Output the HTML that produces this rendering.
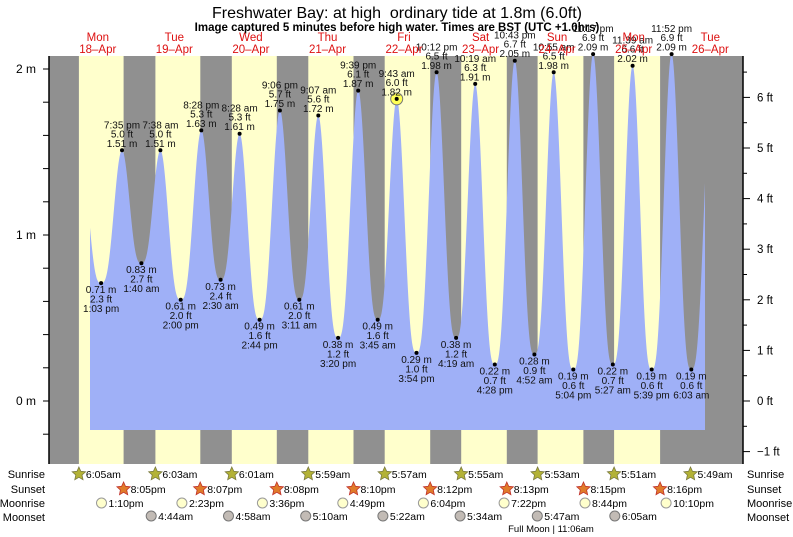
<!DOCTYPE html>
<html><head><meta charset="utf-8">
<style>
html,body{margin:0;padding:0;background:#fff;}
svg{display:block;font-family:"Liberation Sans",Arial,sans-serif;}
</style></head>
<body>
<svg id="s" width="793" height="537" viewBox="0 0 793 537" xmlns="http://www.w3.org/2000/svg"></svg>
<script>
var S=document.getElementById('s'),out=[];
var X0=59.5,PH=3.19,DAY=PH*24;
function tx(d,h,m){return X0+(d*24+h+m/60)*PH;}
function ym(v){return 401-v*166;}
var L=49,R=743,T=56,B=464;
out.push('<rect x="'+L+'" y="'+T+'" width="'+(R-L)+'" height="'+(B-T)+'" fill="#909090"/>');
var sr=[[6,5],[6,3],[6,1],[5,59],[5,57],[5,55],[5,53],[5,51],[5,49]];
var ss=[[20,5],[20,7],[20,8],[20,10],[20,12],[20,13],[20,15],[20,16]];
for(var d=0;d<8;d++){var a=tx(d,sr[d][0],sr[d][1]),b=tx(d,ss[d][0],ss[d][1]);
out.push('<rect x="'+a.toFixed(1)+'" y="'+T+'" width="'+(b-a).toFixed(1)+'" height="'+(B-T)+'" fill="#ffffcc"/>');}
var E=[[0,6,40,1.48,1],[0,13,3,0.71,0],[0,19,35,1.51,1],[1,1,40,0.83,0],[1,7,38,1.51,1],[1,14,0,0.61,0],[1,20,28,1.63,1],[2,2,30,0.73,0],[2,8,28,1.61,1],[2,14,44,0.49,0],[2,21,6,1.75,1],[3,3,11,0.61,0],[3,9,7,1.72,1],[3,15,20,0.38,0],[3,21,39,1.87,1],[4,3,45,0.49,0],[4,9,43,1.82,1],[4,15,54,0.29,0],[4,22,12,1.98,1],[5,4,19,0.38,0],[5,10,19,1.91,1],[5,16,28,0.22,0],[5,22,43,2.05,1],[6,4,52,0.28,0],[6,10,55,1.98,1],[6,17,4,0.19,0],[6,23,17,2.09,1],[7,5,27,0.22,0],[7,11,39,2.02,1],[7,17,39,0.19,0],[7,23,52,2.09,1],[8,6,3,0.19,0],[8,12,40,2.0,1]];
function H(x){for(var i=0;i<E.length-1;i++){var a=tx(E[i][0],E[i][1],E[i][2]),b=tx(E[i+1][0],E[i+1][1],E[i+1][2]);
if(x>=a&&x<=b){var f=(x-a)/(b-a);var lo=Math.min(E[i][3],E[i+1][3]),hi=Math.max(E[i][3],E[i+1][3]);
var g=E[i][4]?f:1-f;
var u=(1+Math.cos(Math.PI*g))/2;
return lo+(hi-lo)*Math.pow(u,1.5);}}return 1;}
var p='M90,430';for(var x=90;x<=705;x+=0.5){p+=' L'+x+','+ym(H(x)).toFixed(1);}p+=' L705,430 Z';
out.push('<path d="'+p+'" fill="#9fb0f7"/>');
out.push('<line x1="'+L+'" y1="'+T+'" x2="'+L+'" y2="'+B+'" stroke="#000" stroke-width="1.5"/>');
out.push('<line x1="'+R+'" y1="'+T+'" x2="'+R+'" y2="'+B+'" stroke="#000" stroke-width="1.5"/>');
for(var v=-0.2;v<=2.01;v+=0.2){var y=ym(v).toFixed(1);out.push('<line x1="43" y1="'+y+'" x2="'+L+'" y2="'+y+'" stroke="#000"/>');}
[['2 m',2],['1 m',1],['0 m',0]].forEach(function(q){out.push('<text x="36" y="'+(ym(q[1])+4)+'" font-size="12" text-anchor="end">'+q[0]+'</text>');});
for(var f=-1;f<=6.6;f+=0.5){var y=ym(f*0.3048);if(y<T)continue;var maj=Math.abs(f-Math.round(f))<0.01;
out.push('<line x1="'+R+'" y1="'+y.toFixed(1)+'" x2="'+(R+(maj?7:4))+'" y2="'+y.toFixed(1)+'" stroke="#000"/>');
if(maj)out.push('<text x="757" y="'+(y+4).toFixed(1)+'" font-size="11.5">'+(f<0?'\u2212'+(-f):f)+' ft</text>');}
function tf(h,m){var ap=h>=12?'pm':'am';var hh=h%12;if(hh==0)hh=12;return hh+':'+(m<10?'0':'')+m+' '+ap;}
for(var i=1;i<E.length-1;i++){var e=E[i],x=tx(e[0],e[1],e[2]),y=ym(e[3]);
var ft=(e[3]/0.3048).toFixed(1)+' ft',m=e[3].toFixed(2)+' m',t=tf(e[1],e[2]);
if(i==16)out.push('<circle cx="'+x.toFixed(1)+'" cy="'+y.toFixed(1)+'" r="6" fill="#ffff55" stroke="#777"/>');
out.push('<circle cx="'+x.toFixed(1)+'" cy="'+y.toFixed(1)+'" r="2" fill="#000"/>');
var g='<text font-size="10" text-anchor="middle" fill="#111">';
if(e[4]){g+='<tspan x="'+x.toFixed(1)+'" y="'+(y-22).toFixed(1)+'">'+t+'</tspan><tspan x="'+x.toFixed(1)+'" y="'+(y-13).toFixed(1)+'">'+ft+'</tspan><tspan x="'+x.toFixed(1)+'" y="'+(y-3.5).toFixed(1)+'">'+m+'</tspan>';}
else{g+='<tspan x="'+x.toFixed(1)+'" y="'+(y+10).toFixed(1)+'">'+m+'</tspan><tspan x="'+x.toFixed(1)+'" y="'+(y+19.5).toFixed(1)+'">'+ft+'</tspan><tspan x="'+x.toFixed(1)+'" y="'+(y+29).toFixed(1)+'">'+t+'</tspan>';}
out.push(g+'</text>');}
out.push('<text x="397" y="18" font-size="16" text-anchor="middle">Freshwater Bay: at high &#160;ordinary tide at 1.8m (6.0ft)</text>');
out.push('<text x="397" y="31" font-size="11.5" font-weight="bold" text-anchor="middle">Image captured 5 minutes before high water. Times are BST (UTC +1.0hrs)</text>');
var dn=['Mon','Tue','Wed','Thu','Fri','Sat','Sun','Mon','Tue'];
for(var d=0;d<9;d++){var x=tx(d,12,0).toFixed(1);
out.push('<text x="'+x+'" y="41" font-size="11.5" fill="#dd1111" text-anchor="middle">'+dn[d]+'</text><text x="'+x+'" y="53" font-size="11.5" fill="#dd1111" text-anchor="middle">'+(18+d)+'\u2013Apr</text>');}
[['Sunrise',478],['Sunset',493],['Moonrise',507],['Moonset',521]].forEach(function(q){
out.push('<text x="45" y="'+q[1]+'" font-size="11" text-anchor="end">'+q[0]+'</text><text x="747" y="'+q[1]+'" font-size="11">'+q[0]+'</text>');});
function star(cx,cy,fill,st){var pts=[];for(var k=0;k<10;k++){var r=k%2?3.3:7,a=-Math.PI/2+k*Math.PI/5;pts.push((cx+r*Math.cos(a)).toFixed(1)+','+(cy+r*Math.sin(a)).toFixed(1));}
return '<polygon points="'+pts.join(' ')+'" fill="'+fill+'" stroke="'+st+'" stroke-width="0.8"/>';}
function t2(h,m,suf){var hh=h%12;if(hh==0)hh=12;return hh+':'+(m<10?'0':'')+m+suf;}
for(var d=0;d<9;d++){var x=tx(d,sr[d][0],sr[d][1]);out.push(star(x,474,'#b3b236','#7a7a40')+'<text x="'+(x+7)+'" y="478" font-size="10.5">'+t2(sr[d][0],sr[d][1],'am')+'</text>');}
for(var d=0;d<8;d++){var x=tx(d,ss[d][0],ss[d][1]);out.push(star(x,489,'#e07b2a','#c0302a')+'<text x="'+(x+7)+'" y="493" font-size="10.5">'+t2(ss[d][0],ss[d][1],'pm')+'</text>');}
var mr=[[13,10],[14,23],[15,36],[16,49],[18,4],[19,22],[20,44],[22,10]];
for(var d=0;d<8;d++){var x=tx(d,mr[d][0],mr[d][1]);out.push('<circle cx="'+x.toFixed(1)+'" cy="503" r="5" fill="#ffffcc" stroke="#999"/><text x="'+(x+7)+'" y="507" font-size="10.5">'+t2(mr[d][0],mr[d][1],'pm')+'</text>');}
var ms=[[4,44],[4,58],[5,10],[5,22],[5,34],[5,47],[6,5]];
for(var d=0;d<7;d++){var x=tx(d+1,ms[d][0],ms[d][1]);out.push('<circle cx="'+x.toFixed(1)+'" cy="516" r="5" fill="#c2bbb5" stroke="#777"/><text x="'+(x+7)+'" y="520" font-size="10.5">'+t2(ms[d][0],ms[d][1],'am')+'</text>');}
out.push('<text x="551" y="532" font-size="9.5" text-anchor="middle">Full Moon | 11:06am</text>');
S.innerHTML=out.join('');
</script>
</body></html>
